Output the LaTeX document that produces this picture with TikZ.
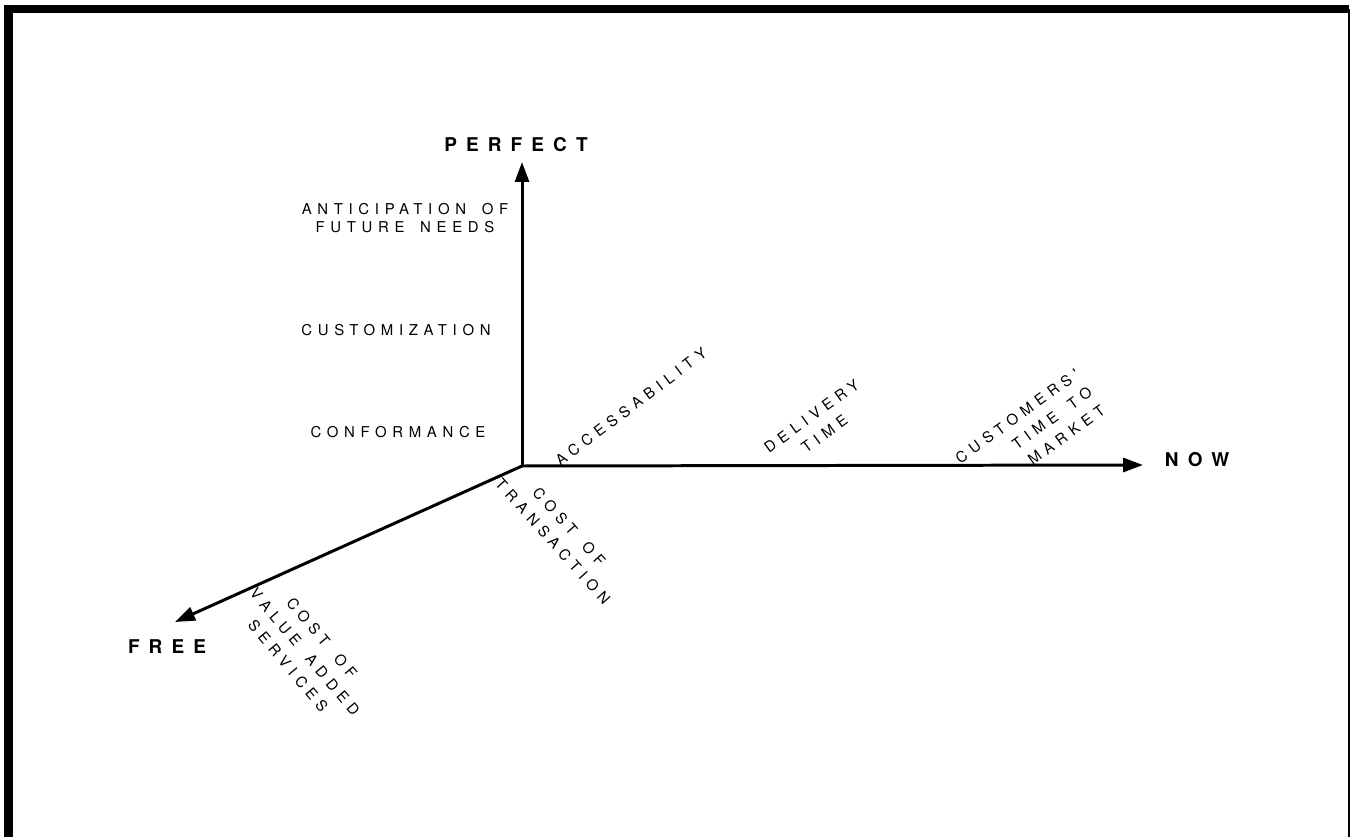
\documentclass[tikz,border=0pt]{standalone}
\usepackage{fontspec}
\setsansfont{TeX Gyre Heros}
\newfontfamily\spacedfont[LetterSpace=38, WordSpace=1.6]{TeX Gyre Heros}
\newfontfamily\spacedbold[LetterSpace=48, WordSpace=1.6]{TeX Gyre Heros}
\usetikzlibrary{arrows.meta}

\begin{document}
\begin{tikzpicture}[
    x=0.02cm, y=-0.02cm,
    axis/.style  ={line width=1.7pt, -{Triangle[length=4mm, width=2.8mm]}},
    pole/.style  ={inner sep=0pt, font=\spacedbold\bfseries\fontsize{10.8}{12}\selectfont},
    grade/.style ={inner sep=0pt, align=center, font=\spacedfont\fontsize{8.5}{9.8}\selectfont},
    slant/.style ={inner sep=0pt, align=center, font=\spacedfont\fontsize{8.5}{12.5}\selectfont},
    edge/.style  ={line width=5pt}
]
\useasboundingbox (0,0) rectangle (1352,837);
% --- page frame ---
\draw[edge] (8.5,837) -- (8.5,9) -- (1349,9);
\draw[line width=1pt] (1349,9) -- (1349,837);

% --- axes ---
\coordinate (origin) at (522,466);
\coordinate (uptip)  at (522,162);
\coordinate (nowtip) at (1143,465);
\coordinate (freetip) at (175,622);
\draw[axis] (origin) -- (uptip);
\draw[axis] (origin) -- (nowtip);
\draw[axis] (origin) -- (freetip);

\node[pole] (perfect) at (516,145) {PERFECT};
\node[pole] (now)     at (1197,460) {NOW};
\node[pole] (free)    at (167,647) {FREE};

% --- quality scale ---
\node[grade] (anticip) at (405,218) {ANTICIPATION OF\\FUTURE NEEDS};
\node[grade] (custom)  at (396,330) {CUSTOMIZATION};
\node[grade] (conform) at (398,432) {CONFORMANCE};

% --- time scale ---
\node[slant, rotate=37] (access)   at (631,407) {ACCESSABILITY};
\node[slant, rotate=36] (delivery) at (818,425) {DELIVERY\\TIME};
\node[slant, rotate=36, align=right] (market) at (1030,434) {CUSTOMERS'\\TIME TO\\MARKET};

% --- cost scale ---
\node[slant, rotate=-48] (transact) at (561,534) {COST OF\\TRANSACTION};
\node[slant, rotate=-50] (valueadd) at (305,652) {COST OF\\VALUE ADDED\\SERVICES};
\end{tikzpicture}
\end{document}
